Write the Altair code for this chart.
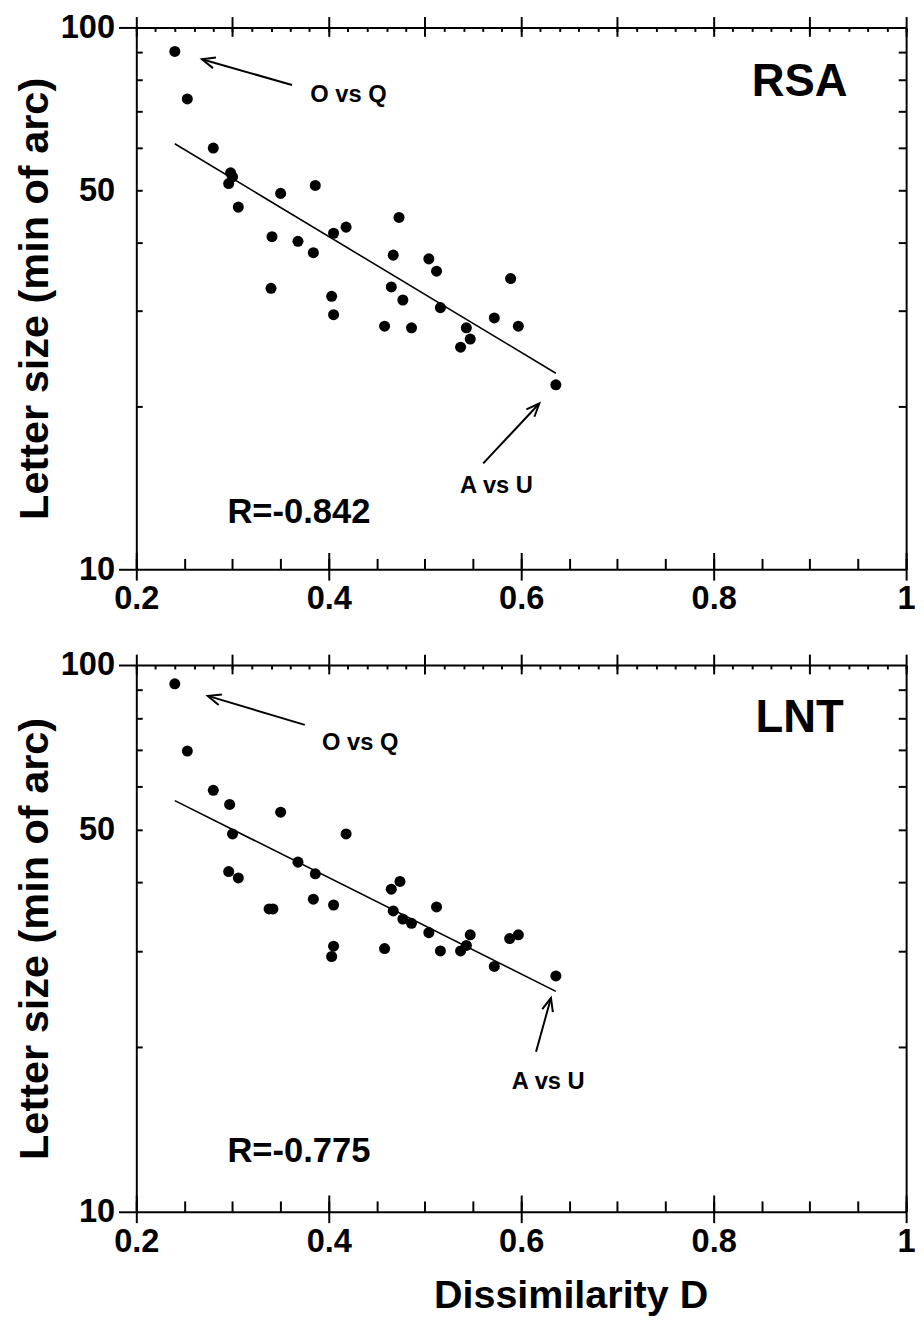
import altair as alt
import pandas as pd

# ---------------- data ----------------
rsa_d = [0.240, 0.253, 0.280, 0.298, 0.300, 0.296, 0.306, 0.350, 0.386, 0.341,
         0.368, 0.384, 0.405, 0.418, 0.340, 0.403, 0.405, 0.473, 0.467, 0.465,
         0.477, 0.458, 0.486, 0.504, 0.512, 0.516, 0.543, 0.547, 0.537, 0.572,
         0.589, 0.597, 0.636]
rsa_size = [90.3, 73.8, 59.9, 53.9, 53.0, 51.5, 46.6, 49.4, 51.1, 41.1,
            40.3, 38.4, 41.7, 42.8, 33.0, 31.9, 29.5, 44.6, 38.0, 33.2,
            31.4, 28.1, 27.9, 37.4, 35.5, 30.4, 27.9, 26.6, 25.7, 29.1,
            34.4, 28.1, 21.9]
rsa_fit_d = [0.240, 0.636]
rsa_fit_size = [61.0, 23.0]

lnt_d = [0.240, 0.253, 0.280, 0.297, 0.300, 0.350, 0.418, 0.296, 0.306, 0.368,
         0.386, 0.384, 0.338, 0.342, 0.405, 0.405, 0.403, 0.465, 0.474, 0.467,
         0.477, 0.486, 0.458, 0.512, 0.504, 0.516, 0.547, 0.543, 0.537, 0.572,
         0.588, 0.597, 0.636]
lnt_size = [92.4, 69.6, 59.0, 55.6, 49.1, 53.8, 49.1, 41.9, 40.8, 43.6,
            41.5, 37.3, 35.8, 35.8, 36.4, 30.6, 29.3, 38.9, 40.2, 35.5,
            34.3, 33.7, 30.3, 36.1, 32.4, 30.0, 32.1, 30.7, 30.0, 28.1,
            31.6, 32.1, 27.0]
lnt_fit_d = [0.240, 0.636]
lnt_fit_size = [56.5, 25.3]

# annotation texts (text, D, size, font size)
rsa_text = ["O vs Q", "A vs U", "RSA", "R=-0.842"]
rsa_text_d = [0.4204, 0.5743, 0.8893, 0.369]
rsa_text_s = [74.9, 14.22, 79.1, 12.74]
lnt_text = ["O vs Q", "A vs U", "LNT", "R=-0.775"]
lnt_text_d = [0.4327, 0.6281, 0.8893, 0.369]
lnt_text_s = [72.0, 17.28, 79.9, 12.93]
text_fs = [24, 24, 46, 35]

# arrows: tail -> tip
rsa_arrow_d0 = [0.3618, 0.5605]
rsa_arrow_s0 = [78.3, 15.68]
rsa_arrow_d1 = [0.2682, 0.6188]
rsa_arrow_s1 = [87.35, 20.23]
rsa_arrow_ang = [196, 313]
lnt_arrow_d0 = [0.3751, 0.6154]
lnt_arrow_s0 = [77.7, 19.62]
lnt_arrow_d1 = [0.2743, 0.6309]
lnt_arrow_s1 = [87.8, 24.60]
lnt_arrow_ang = [197, 285]

# tick positions
x_major_bottom = [0.2, 0.4, 0.6, 0.8, 1.0]
x_minor_bottom = [0.2, 0.25, 0.3, 0.35, 0.4, 0.45, 0.5, 0.55, 0.6, 0.65, 0.7,
                  0.75, 0.8, 0.85, 0.9, 0.95, 1.0]
x_major_top = [0.2, 0.3, 0.4, 0.5, 0.6, 0.7, 0.8, 0.9, 1.0]
x_minor_top = [0.2, 0.22, 0.24, 0.26, 0.28, 0.3, 0.32, 0.34, 0.36, 0.38, 0.4,
               0.42, 0.44, 0.46, 0.48, 0.5, 0.52, 0.54, 0.56, 0.58, 0.6, 0.62,
               0.64, 0.66, 0.68, 0.7, 0.72, 0.74, 0.76, 0.78, 0.8, 0.82, 0.84,
               0.86, 0.88, 0.9, 0.92, 0.94, 0.96, 0.98, 1.0]
y_labels = [10, 50, 100]
y_outer = [10, 100]
y_inner = [20, 30, 40, 50, 60, 70, 80, 90]

FONT = "Liberation Sans"
X_DOM = [0.2, 1.0]
Y_DOM = [10, 100]
W = 780


def ax(**kw):
    base = dict(grid=False, labelFont=FONT, labelFontWeight="bold", labelFontSize=33,
                labelColor="black", tickColor="black", tickWidth=2,
                domainColor="black", domainWidth=2, titleFont=FONT,
                titleFontWeight="bold", titleColor="black")
    base.update(kw)
    return alt.Axis(**base)


def bare(**kw):
    return ax(labels=False, domain=False, title=None, **kw)


def X(field, axis):
    return alt.X(field, type="quantitative",
                 scale=alt.Scale(domain=X_DOM, nice=False, zero=False), axis=axis)


def Y(field, axis):
    return alt.Y(field, type="quantitative",
                 scale=alt.Scale(type="log", domain=Y_DOM, nice=False), axis=axis)


def panel(d, s, fd, fs, tx, td, ts, a_d0, a_s0, a_d1, a_s1, a_ang, H, xtitle):
    pts = pd.DataFrame({"D": d, "S": s})
    fit = pd.DataFrame({"D": fd, "S": fs})
    txt = pd.DataFrame({"t": tx, "D": td, "S": ts, "fs": text_fs})
    arr = pd.DataFrame({"D0": a_d0, "S0": a_s0, "D1": a_d1, "S1": a_s1, "ang": a_ang})

    if xtitle:
        xaxis_main = ax(orient="bottom", values=x_major_bottom, tickSize=11, labelPadding=3,
                        format="~g", labelFlush=False, title=xtitle, titleFontSize=40,
                        titlePadding=18, titleX=440)
    else:
        xaxis_main = ax(orient="bottom", values=x_major_bottom, tickSize=11, labelPadding=3,
                        format="~g", labelFlush=False, title=None)

    layer_pts = alt.Chart(pts).mark_circle(size=125, color="black", opacity=1).encode(
        x=X("D", xaxis_main),
        y=Y("S", ax(orient="left", values=y_labels, ticks=False, labelPadding=22,
                    title="Letter size (min of arc)", titleFontSize=42, titlePadding=4,
                    titleLimit=800)),
    )
    layer_fit = alt.Chart(fit).mark_line(color="black", strokeWidth=1.6).encode(
        x=X("D", ax(orient="top", values=x_major_top, tickSize=11, labels=False, title=None)),
        y=Y("S", ax(orient="right", ticks=False, labels=False, title=None)),
    )
    inv = alt.Chart(pts).mark_point(opacity=0)
    l3 = inv.encode(
        x=X("D", bare(orient="top", offset=-H, values=x_minor_bottom, tickSize=11)),
        y=Y("S", bare(orient="left", values=y_outer, tickSize=18)),
    )
    l4 = inv.encode(
        x=X("D", bare(orient="top", offset=-H, values=x_major_bottom, tickSize=17)),
        y=Y("S", bare(orient="right", offset=-W, values=y_inner, tickSize=6)),
    )
    l5 = inv.encode(
        x=X("D", bare(orient="bottom", offset=-H, values=x_minor_top, tickSize=4)),
        y=Y("S", bare(orient="left", offset=-W, values=y_inner, tickSize=8)),
    )
    l6 = inv.encode(
        x=X("D", bare(orient="bottom", offset=-H, values=x_major_top, tickSize=9)),
        y=Y("S", None),
    )
    layer_txt = alt.Chart(txt).mark_text(font=FONT, fontWeight="bold", color="black",
                                         align="center", baseline="middle").encode(
        x=X("D", None), y=Y("S", None), text="t:N",
        size=alt.Size("fs:Q", scale=None),
    )
    layer_shaft = alt.Chart(arr).mark_rule(color="black", strokeWidth=2).encode(
        x=X("D0", None), y=Y("S0", None), x2="D1", y2="S1",
    )
    layer_head = alt.Chart(arr).mark_point(
        shape="M -1 -0.42 L 0 0 L -1 0.42", filled=False, size=700,
        strokeWidth=2, color="black", opacity=1).encode(
        x=X("D1", None), y=Y("S1", None), angle=alt.Angle("ang:Q", scale=None),
    )
    return alt.layer(layer_pts, layer_fit, l3, l4, l5, l6, layer_txt, layer_shaft,
                     layer_head).resolve_scale(x="independent", y="independent").properties(
        width=W, height=H)


top = panel(rsa_d, rsa_size, rsa_fit_d, rsa_fit_size, rsa_text, rsa_text_d, rsa_text_s,
            rsa_arrow_d0, rsa_arrow_s0, rsa_arrow_d1, rsa_arrow_s1, rsa_arrow_ang, 549, None)
bottom = panel(lnt_d, lnt_size, lnt_fit_d, lnt_fit_size, lnt_text, lnt_text_d, lnt_text_s,
               lnt_arrow_d0, lnt_arrow_s0, lnt_arrow_d1, lnt_arrow_s1, lnt_arrow_ang, 554,
               "Dissimilarity D")

chart = alt.vconcat(top, bottom, spacing=34).properties(
    padding={"left": 5, "top": -5, "right": 0, "bottom": 0},
    background="white",
).configure_view(strokeOpacity=0)

chart.save("out.html", embed_options={"renderer": "svg", "actions": False})
